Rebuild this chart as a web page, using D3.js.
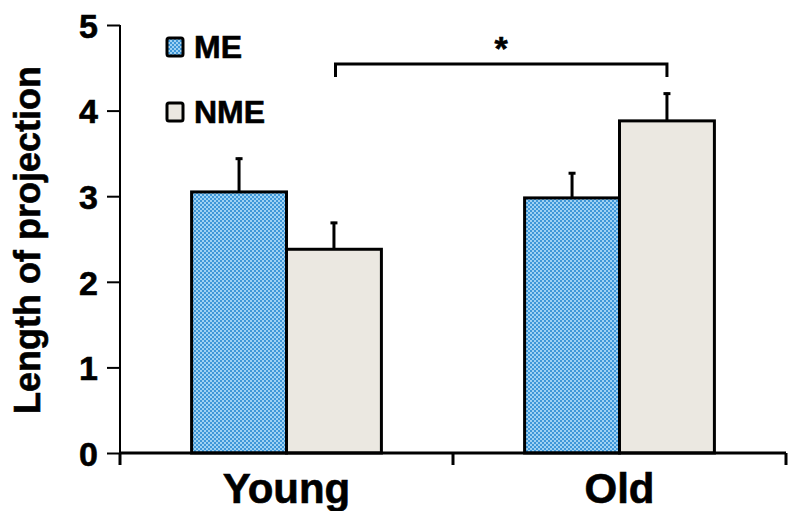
<!DOCTYPE html>
<html><head><meta charset="utf-8">
<script src="https://cdn.jsdelivr.net/npm/d3@7"></script>
<style>body{margin:0;background:#fff}svg{display:block}text{font-family:"Liberation Sans",Arial,sans-serif;font-weight:bold;stroke:#000;stroke-width:0.6px}</style>
</head><body><svg id="c" width="789" height="511"></svg>
<script>
const categories = ["Young", "Old"];
const seriesNames = ["ME", "NME"];
const meValues = [3.05, 2.98];
const nmeValues = [2.38, 3.88];
const meErrors = [0.40, 0.30];
const nmeErrors = [0.32, 0.33];
const yTicks = [0, 1, 2, 3, 4, 5];
const yLabel = "Length of projection";
const sigLabel = "*";

const svg = d3.select("#c");
const defs = svg.append("defs");
const pat = defs.append("pattern").attr("id","chk").attr("width",4).attr("height",4).attr("patternUnits","userSpaceOnUse");
pat.append("rect").attr("width",4).attr("height",4).attr("fill","#9fd2f3");
pat.append("rect").attr("width",2).attr("height",2).attr("fill","#3f97d8");
pat.append("rect").attr("x",2).attr("y",2).attr("width",2).attr("height",2).attr("fill","#3f97d8");
const fills = {ME:"url(#chk)", NME:"#ebe8e1"};

const x = d3.scaleBand().domain(categories).range([120,786]).paddingInner(0.43).paddingOuter(0.215);
const xs = d3.scaleBand().domain(seriesNames).range([0,x.bandwidth()]);
const y = d3.scaleLinear().domain([0,5]).range([453,25]);

const data = [];
categories.forEach((c,i)=>{
  data.push({cat:c, s:"ME", v:meValues[i], e:meErrors[i]});
  data.push({cat:c, s:"NME", v:nmeValues[i], e:nmeErrors[i]});
});

// error bars
const eb = svg.append("g");
data.forEach(d=>{
  const cx = x(d.cat)+xs(d.s)+xs.bandwidth()/2;
  eb.append("line").attr("x1",cx).attr("x2",cx).attr("y1",y(d.v)).attr("y2",y(d.v+d.e)).attr("stroke","#000").attr("stroke-width",3);
  eb.append("line").attr("x1",cx-3.5).attr("x2",cx+3.5).attr("y1",y(d.v+d.e)+1).attr("y2",y(d.v+d.e)+1).attr("stroke","#000").attr("stroke-width",3);
});

svg.append("g").selectAll("rect").data(data).join("rect")
  .attr("x",d=>x(d.cat)+xs(d.s)).attr("width",xs.bandwidth())
  .attr("y",d=>y(d.v)).attr("height",d=>y(0)-y(d.v))
  .attr("fill",d=>fills[d.s]).attr("stroke","#000").attr("stroke-width",3);

// y axis
const ya = svg.append("g").attr("transform","translate(120,0)")
  .call(d3.axisLeft(y).tickValues(yTicks).tickFormat(d3.format("d")).tickSize(13).tickPadding(9));
ya.select(".domain").attr("stroke-width",2).attr("d","M0,25V465");
ya.selectAll(".tick line").attr("stroke-width",2);
ya.selectAll(".tick text").attr("font-size",34).attr("fill","#000").attr("dy","0.36em");

// x axis
const xa = svg.append("g").attr("transform","translate(0,453)");
xa.append("line").attr("x1",120).attr("x2",786).attr("y1",0).attr("y2",0).attr("stroke","#000").attr("stroke-width",3);
[120, (x("Young")+x.bandwidth()+x("Old"))/2, 786].forEach(t=>{
  xa.append("line").attr("x1",t).attr("x2",t).attr("y1",0).attr("y2",12).attr("stroke","#000").attr("stroke-width",3);
});
xa.selectAll("text.cat").data(categories).join("text").attr("class","cat")
  .attr("x",d=>x(d)+x.bandwidth()/2).attr("y",50).attr("text-anchor","middle").attr("font-size",42).text(d=>d);

// y label
svg.append("text").attr("transform","translate(40,240) rotate(-90)").attr("text-anchor","middle")
  .attr("font-size",36).text(yLabel);

// legend
const lg = svg.append("g");
seriesNames.forEach((s,i)=>{
  const yy = 38 + i*65;
  lg.append("rect").attr("x",167).attr("y",yy).attr("width",16).attr("height",18).attr("fill",fills[s]).attr("stroke","#000").attr("stroke-width",3).attr("rx",2);
  lg.append("text").attr("x",194).attr("y",yy+20).attr("font-size",32).text(s);
});

// significance bracket
const bx1 = x("Young")+xs("ME")+xs.bandwidth()+49, bx2 = x("Old")+xs("NME")+xs.bandwidth()/2;
svg.append("path").attr("d",`M${bx1},77V64H${bx2}V77`).attr("fill","none").attr("stroke","#000").attr("stroke-width",3);
svg.append("text").attr("x",(bx1+bx2)/2).attr("y",60).attr("text-anchor","middle").attr("font-size",34).text(sigLabel);
</script></body></html>
